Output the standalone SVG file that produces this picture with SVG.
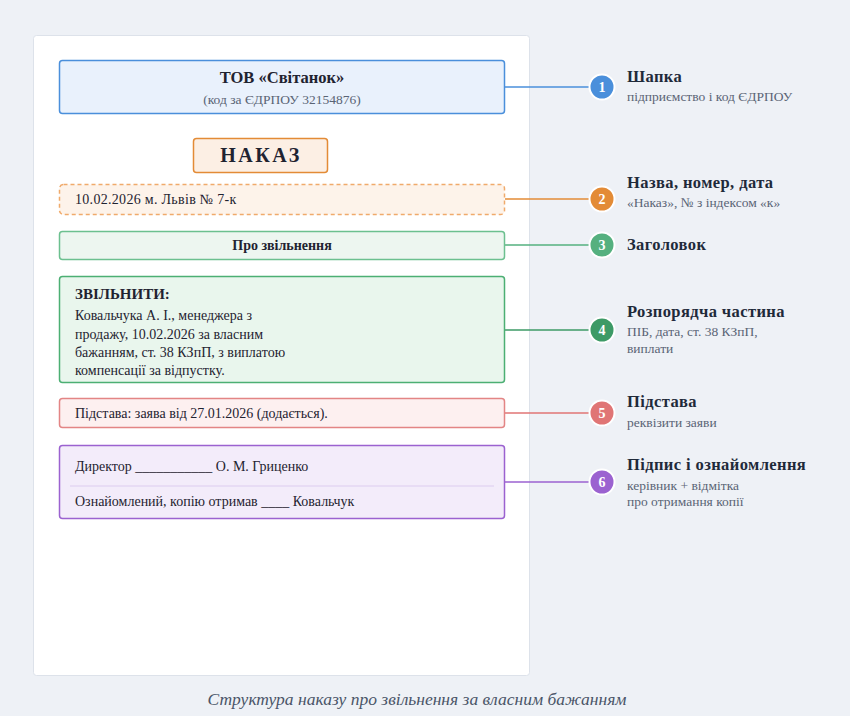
<svg xmlns="http://www.w3.org/2000/svg" width="850" height="716" viewBox="0 0 850 716">
<style>
text{font-family:"Liberation Serif","DejaVu Serif",serif;fill:#1f2330}
.t{font-size:14px}
.b{font-weight:bold}
.h{font-size:16.5px;font-weight:bold;fill:#1f2a3a;letter-spacing:0.4px}
.s{font-size:13.5px;fill:#5a6475}
.n{font-size:14px;font-weight:bold;fill:#fff;text-anchor:middle}
.box{stroke-width:1.5}
</style>
<rect x="0" y="0" width="850" height="716" fill="#eef1f6"/>
<rect x="33.5" y="35.5" width="496" height="640" rx="3" fill="#ffffff" stroke="#dde2ea"/>

<g id="connectors" stroke-width="1.5" fill="none">
<line x1="505" y1="87" x2="602" y2="87" stroke="#4a8fdb"/>
<line x1="505" y1="199" x2="602" y2="199" stroke="#e38b36"/>
<line x1="505" y1="245" x2="602" y2="245" stroke="#55b07f"/>
<line x1="505" y1="330" x2="602" y2="330" stroke="#3d9a66"/>
<line x1="505" y1="413" x2="602" y2="413" stroke="#e07575"/>
<line x1="505" y1="482" x2="602" y2="482" stroke="#9b62d0"/>
</g>

<g id="header">
<rect class="box" x="59.5" y="60.5" width="445" height="53" rx="3" fill="#e9f1fc" stroke="#4a8fdb"/>
<text x="282" y="83" class="b" style="font-size:16.5px" text-anchor="middle">ТОВ «Світанок»</text>
<text x="282" y="104" text-anchor="middle" style="font-size:13.5px;fill:#5a6475">(код за ЄДРПОУ 32154876)</text>
</g>

<g id="title-nakaz">
<rect class="box" x="193.5" y="138.5" width="134" height="34" rx="3" fill="#fcefe4" stroke="#e38b36"/>
<text x="261" y="162" class="b" style="font-size:20px;letter-spacing:2.5px" text-anchor="middle">НАКАЗ</text>
</g>

<g id="date">
<rect class="box" x="59.5" y="184.5" width="445" height="30" rx="4" fill="#fdf3ea" stroke="#f0aa6b" stroke-dasharray="4 3"/>
<text x="75" y="204" class="t" style="letter-spacing:0.3px">10.02.2026 м. Львів № 7-к</text>
</g>

<g id="subject">
<rect class="box" x="59.5" y="231.5" width="445" height="28" rx="3" fill="#edf6f0" stroke="#6cc08f"/>
<text x="282" y="250" class="t b" text-anchor="middle">Про звільнення</text>
</g>

<g id="body">
<rect class="box" x="59.5" y="276.5" width="445" height="106" rx="3" fill="#e9f6ed" stroke="#4caf73"/>
<text x="75" y="299" class="b" style="font-size:15px">ЗВІЛЬНИТИ:</text>
<text x="75" y="320" class="t">Ковальчука А. І., менеджера з</text>
<text x="75" y="339" class="t">продажу, 10.02.2026 за власним</text>
<text x="75" y="357" class="t">бажанням, ст. 38 КЗпП, з виплатою</text>
<text x="75" y="375" class="t">компенсації за відпустку.</text>
</g>

<g id="basis">
<rect class="box" x="59.5" y="398.5" width="445" height="29" rx="3" fill="#fdf0f0" stroke="#e38585"/>
<text x="75" y="418" class="t">Підстава: заява від 27.01.2026 (додається).</text>
</g>

<g id="signature">
<rect class="box" x="59.5" y="445.5" width="445" height="73" rx="3" fill="#f3ecfa" stroke="#9b62d0"/>
<text x="75" y="471" class="t">Директор ___________ О. М. Гриценко</text>
<line x1="70" y1="486" x2="494" y2="486" stroke="#dcccef" stroke-width="1"/>
<text x="75" y="506" class="t">Ознайомлений, копію отримав ____ Ковальчук</text>
</g>

<g id="marker-1">
<circle cx="602" cy="87" r="12.5" fill="#4a8fdb" stroke="#fff" stroke-width="2"/>
<text x="602" y="92" class="n">1</text>
<text x="627" y="82" class="h">Шапка</text>
<text x="627" y="101" class="s">підприємство і код ЄДРПОУ</text>
</g>
<g id="marker-2">
<circle cx="602" cy="199" r="12.5" fill="#e38b36" stroke="#fff" stroke-width="2"/>
<text x="602" y="204" class="n">2</text>
<text x="627" y="188" class="h">Назва, номер, дата</text>
<text x="627" y="207" class="s">«Наказ», № з індексом «к»</text>
</g>
<g id="marker-3">
<circle cx="602" cy="245" r="12.5" fill="#55b07f" stroke="#fff" stroke-width="2"/>
<text x="602" y="250" class="n">3</text>
<text x="627" y="250" class="h">Заголовок</text>
</g>
<g id="marker-4">
<circle cx="602" cy="330" r="12.5" fill="#3d9a66" stroke="#fff" stroke-width="2"/>
<text x="602" y="335" class="n">4</text>
<text x="627" y="317" class="h">Розпорядча частина</text>
<text x="627" y="336" class="s">ПІБ, дата, ст. 38 КЗпП,</text>
<text x="627" y="353" class="s">виплати</text>
</g>
<g id="marker-5">
<circle cx="602" cy="413" r="12.5" fill="#e07575" stroke="#fff" stroke-width="2"/>
<text x="602" y="418" class="n">5</text>
<text x="627" y="407" class="h">Підстава</text>
<text x="627" y="427" class="s">реквізити заяви</text>
</g>
<g id="marker-6">
<circle cx="602" cy="482" r="12.5" fill="#9b62d0" stroke="#fff" stroke-width="2"/>
<text x="602" y="487" class="n">6</text>
<text x="627" y="470" class="h">Підпис і ознайомлення</text>
<text x="627" y="490" class="s">керівник + відмітка</text>
<text x="627" y="506" class="s">про отримання копії</text>
</g>

<text x="417" y="705" text-anchor="middle" style="font-size:17.5px;font-style:italic;fill:#4a5568">Структура наказу про звільнення за власним бажанням</text>
</svg>
